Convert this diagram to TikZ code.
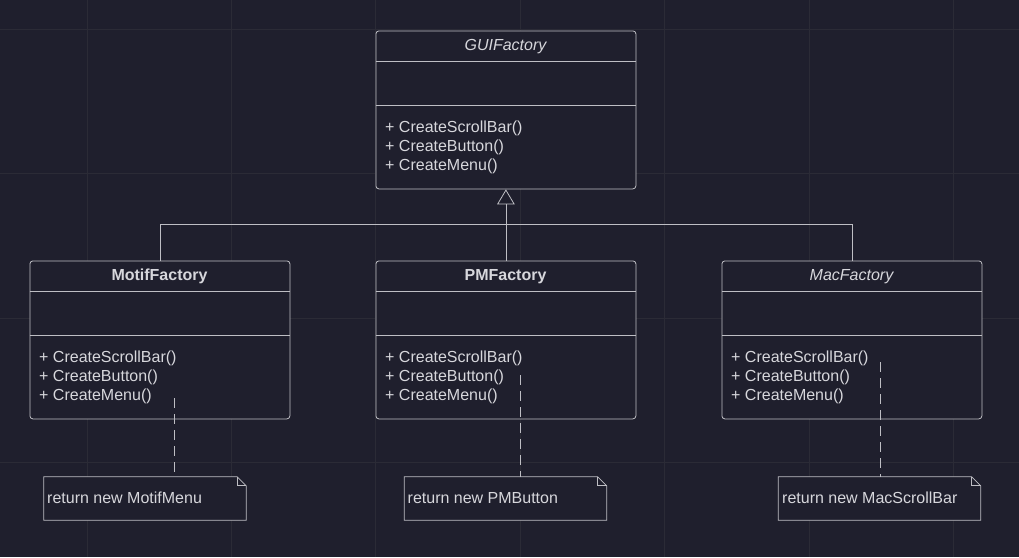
\documentclass[tikz,border=0pt]{standalone}
\usepackage{fontspec}
\setmainfont{Liberation Sans}
\usetikzlibrary{arrows.meta}
\definecolor{bgc}{RGB}{31,31,45}
\definecolor{gridc}{RGB}{43,43,54}
\definecolor{linec}{RGB}{190,190,196}
\definecolor{txtc}{RGB}{215,215,220}
\newcommand{\fsz}{\fontsize{16}{19}\selectfont}
\tikzset{
  classbox/.style={draw=linec, fill=bgc, line width=0.8pt, rounded corners=3pt,
    minimum width=260pt, minimum height=158pt, anchor=north west, inner sep=0pt},
  sepline/.style={draw=linec, line width=0.8pt},
  conn/.style={draw=linec, line width=0.8pt},
  dashconn/.style={draw=linec, line width=0.8pt, dash pattern=on 10pt off 6pt},
  txt/.style={text=txtc, font=\fsz, inner sep=0pt},
  ttl/.style={txt, anchor=base},
  meth/.style={txt, anchor=base west},
  noteshape/.style={minimum width=202pt, minimum height=43pt, inner sep=0pt},
  notepath/.style={draw=linec, fill=bgc, line width=0.8pt},
}
\begin{document}
\begin{tikzpicture}[x=1pt, y=-1pt]
\useasboundingbox (0,0) rectangle (1019,557);
\fill[bgc] (0,0) rectangle (1019,557);
% grid
\foreach \gx in {87,231.4,375.8,520.2,664.6,809,953.4}
  \draw[gridc, line width=0.8pt] (\gx,0) -- (\gx,557);
\foreach \gy in {29,173.5,318,462.5}
  \draw[gridc, line width=0.8pt] (0,\gy) -- (1019,\gy);

% classes
\node[classbox] (gui) at (375.5,30.5) {};
\node[classbox] (motif) at (29.5,260.5) {};
\node[classbox] (pm) at (375.5,260.5) {};
\node[classbox] (mac) at (721.5,260.5) {};

\foreach \b in {gui,motif,pm,mac}{
  \draw[sepline] ([yshift=-31pt]\b.north west) -- ([yshift=-31pt]\b.north east);
  \draw[sepline] ([yshift=-75pt]\b.north west) -- ([yshift=-75pt]\b.north east);
}

% titles
\node[ttl, font=\fsz\itshape] (guit) at (505.5,50.5) {GUIFactory};
\node[ttl, font=\fsz\bfseries] (motift) at (159.5,280.5) {MotifFactory};
\node[ttl, font=\fsz\bfseries] (pmt) at (505.5,280.5) {PMFactory};
\node[ttl, font=\fsz\itshape] (mact) at (851.5,280.5) {MacFactory};

% methods
\node[meth] (gm1) at (385,132) {+ CreateScrollBar()};
\node[meth] (gm2) at (385,151) {+ CreateButton()};
\node[meth] (gm3) at (385,170) {+ CreateMenu()};
\node[meth] (mm1) at (39,362) {+ CreateScrollBar()};
\node[meth] (mm2) at (39,381) {+ CreateButton()};
\node[meth] (mm3) at (39,400) {+ CreateMenu()};
\node[meth] (pm1) at (385,362) {+ CreateScrollBar()};
\node[meth] (pm2) at (385,381) {+ CreateButton()};
\node[meth] (pm3) at (385,400) {+ CreateMenu()};
\node[meth] (cm1) at (731,362) {+ CreateScrollBar()};
\node[meth] (cm2) at (731,381) {+ CreateButton()};
\node[meth] (cm3) at (731,400) {+ CreateMenu()};

% inheritance
\coordinate (bus) at (505.5,224);
\draw[conn] (motif.north) |- (bus);
\draw[conn] (mac.north) |- (bus);
\draw[conn, -{Triangle[open, width=17.5pt, length=15pt, fill=bgc]}] (pm.north) -- (gui.south);

% notes
\node[noteshape] (n1) at (145,498.5) {};
\node[noteshape] (n2) at (505.5,498.5) {};
\node[noteshape] (n3) at (879.5,498.5) {};
\foreach \n in {n1,n2,n3}{
  \path[notepath] (\n.north west) -- ([xshift=-9pt]\n.north east) -- ([yshift=-9pt]\n.north east)
     -- (\n.south east) -- (\n.south west) -- cycle;
  \draw[conn] ([xshift=-9pt]\n.north east) |- ([yshift=-9pt]\n.north east);
}
\node[meth] (n1t) at (47,503) {return new MotifMenu};
\node[meth] (n2t) at (407.5,503) {return new PMButton};
\node[meth] (n3t) at (782,503) {return new MacScrollBar};

% note connectors
\coordinate (d1) at (174,398);
\coordinate (d2) at (520,375);
\coordinate (d3) at (880,362);
\draw[dashconn] (d1) -- (d1 |- n1.north);
\draw[dashconn] (d2) -- (d2 |- n2.north);
\draw[dashconn] (d3) -- (d3 |- n3.north);
\end{tikzpicture}
\end{document}
